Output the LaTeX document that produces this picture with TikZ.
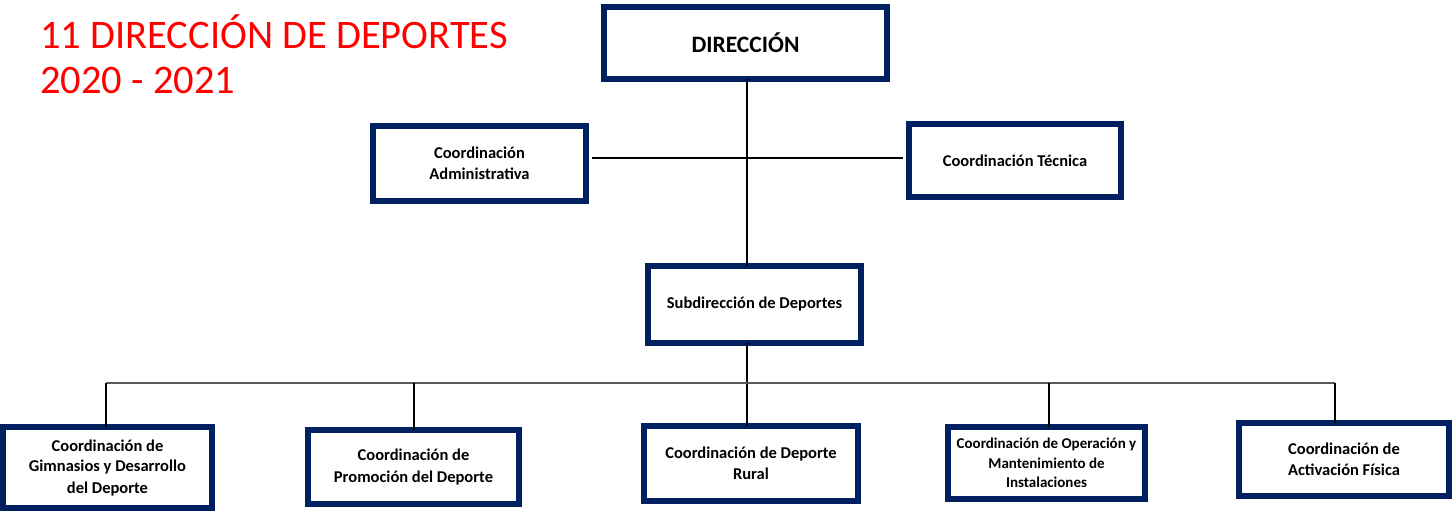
\documentclass[tikz,border=0pt]{standalone}
\usepackage{fontspec}
\setmainfont{Carlito}
\definecolor{navyb}{HTML}{002060}
\definecolor{busgray}{HTML}{595959}
\definecolor{titred}{HTML}{FF0000}
\begin{document}
\begin{tikzpicture}[x=1pt,y=-1pt,
  orgbox/.style={draw=navyb, line width=6pt, fill=white, inner sep=0pt, align=center,
    font=\bfseries\fontsize{16.5}{21}\selectfont},
  smallbox/.style={orgbox, font=\bfseries\fontsize{15}{19.5}\selectfont},
  link/.style={draw=black, line width=1.1pt},
  buslink/.style={draw=busgray, line width=2pt},
  titletext/.style={text=titred, inner sep=0pt, anchor=base west, font=\fontsize{40.5}{45}\selectfont}
]
\useasboundingbox (0,0) rectangle (1454,512);
\fill[white] (0,0) rectangle (1454,512);

\node[titletext] (t1) at (40,48) {11 DIRECCIÓN DE DEPORTES};
\node[titletext] (t2) at (40,93) {2020 - 2021};

\coordinate (tk) at (747,0);
\coordinate (busL) at (106,383);
\coordinate (busR) at (1335,383);
\coordinate (d1) at (106,383);
\coordinate (d2) at (414,383);
\coordinate (d4) at (1049,383);
\coordinate (d5) at (1335,383);
\coordinate (hy) at (0,158);

\node[orgbox, minimum width=283pt, minimum height=72pt, font=\bfseries\fontsize{23.5}{27}\selectfont] (dir) at (745.5,43) {DIRECCIÓN};
\node[orgbox, minimum width=213pt, minimum height=75pt] (adm) at (479.5,163.5) {Coordinación\\Administrativa};
\node[orgbox, minimum width=212pt, minimum height=73pt] (tec) at (1015,160.5) {Coordinación Técnica};
\node[orgbox, minimum width=213pt, minimum height=77pt] (sub) at (754.5,304.5) {Subdirección de Deportes};
\node[orgbox, minimum width=209pt, minimum height=81pt] (gim) at (107.5,467.5) {Coordinación de\\Gimnasios y Desarrollo\\del Deporte};
\node[orgbox, minimum width=211pt, minimum height=74pt] (pro) at (413.5,467) {Coordinación de\\Promoción del Deporte};
\node[orgbox, minimum width=214pt, minimum height=75pt] (rur) at (751,463.5) {Coordinación de Deporte\\Rural};
\node[smallbox, minimum width=197pt, minimum height=72pt] (ope) at (1046.5,463) {Coordinación de Operación y\\Mantenimiento de\\Instalaciones};
\node[orgbox, minimum width=210pt, minimum height=73pt] (act) at (1344,459.5) {Coordinación de\\Activación Física};

\draw[link] ([yshift=3pt]dir.south -| tk) -- ([yshift=-3pt]sub.north -| tk);
\draw[link] ([xshift=3pt]adm.east |- hy) -- ([xshift=-3pt]tec.west |- hy);
\draw[link] ([yshift=3pt]sub.south -| tk) -- ([yshift=-3pt]rur.north -| tk);
\draw[buslink] (busL) -- (busR);
\draw[link] (d1) -- ([yshift=-3pt]gim.north -| d1);
\draw[link] (d2) -- ([yshift=-3pt]pro.north -| d2);
\draw[link] (d4) -- ([yshift=-3pt]ope.north -| d4);
\draw[link] (d5) -- ([yshift=-3pt]act.north -| d5);
\end{tikzpicture}
\end{document}
